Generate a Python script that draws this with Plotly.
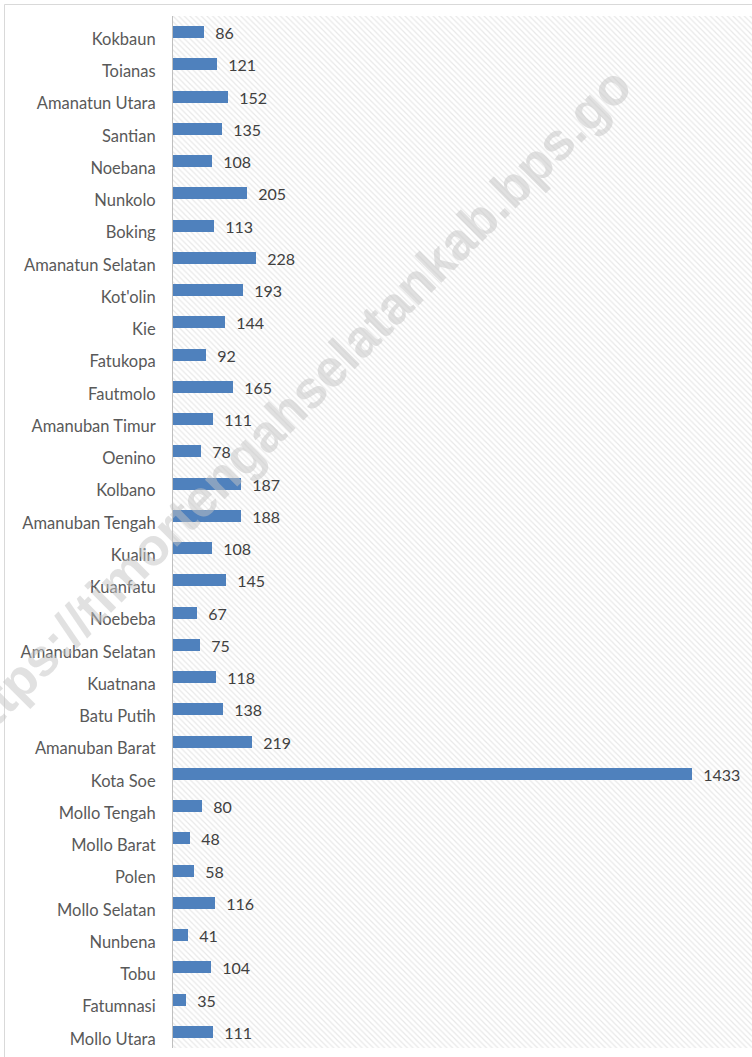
import plotly.graph_objects as go

categories = ["Mollo Utara", "Fatumnasi", "Tobu", "Nunbena", "Mollo Selatan", "Polen",
              "Mollo Barat", "Mollo Tengah", "Kota Soe", "Amanuban Barat", "Batu Putih",
              "Kuatnana", "Amanuban Selatan", "Noebeba", "Kuanfatu", "Kualin",
              "Amanuban Tengah", "Kolbano", "Oenino", "Amanuban Timur", "Fautmolo",
              "Fatukopa", "Kie", "Kot'olin", "Amanatun Selatan", "Boking", "Nunkolo",
              "Noebana", "Santian", "Amanatun Utara", "Toianas", "Kokbaun"]
values = [111, 35, 104, 41, 116, 58, 48, 80, 1433, 219, 138, 118, 75, 67, 145, 108,
          188, 187, 78, 111, 165, 92, 144, 193, 228, 113, 205, 108, 135, 152, 121, 86]
watermark = "https://timortengahselatankab.bps.go"

positions = list(range(len(categories)))
x_max = 1599
y_lo, y_hi = -0.5, len(categories) - 0.5

L, T, W, H = 173, 16, 579, 1032
FIG_W, FIG_H = 752, 1057

fig = go.Figure()

# hatched background panel (decorative), spanning the full axis ranges
fig.add_trace(go.Bar(
    x=[x_max], y=[(y_lo + y_hi) / 2], base=0, width=y_hi - y_lo, orientation="h",
    marker=dict(color="white", line=dict(width=0),
                pattern=dict(shape="\\", fgcolor="#d2d2d2", bgcolor="white",
                             size=4, solidity=0.3)),
    hoverinfo="skip", showlegend=False,
))

fig.add_trace(go.Bar(
    x=values, y=positions, orientation="h", width=0.37,
    marker=dict(color="#4F81BD", line=dict(width=0)),
    texttemplate="\u00a0\u00a0%{x}", textposition="outside", cliponaxis=False,
    constraintext="none",
    textfont=dict(family="Lato", size=16, color="#404040"),
    showlegend=False,
))

cx, cy = 290, 407
fig.add_annotation(
    text=watermark, x=(cx - L) / W, y=1 - (cy - T) / H, xref="paper", yref="paper",
    xanchor="center", yanchor="middle", showarrow=False, textangle=-45,
    font=dict(family="Liberation Sans", size=52.5, color="rgba(195,195,195,0.5)",
              weight="bold"),
)

fig.add_shape(type="rect", xref="paper", yref="paper",
              x0=(4.5 - L) / W, x1=1.2, y0=-0.2, y1=1 + (T - 4.5) / H,
              line=dict(color="#d9d9d9", width=1), fillcolor="rgba(0,0,0,0)", layer="above")

fig.update_layout(
    width=FIG_W, height=FIG_H,
    margin=dict(l=L, r=FIG_W - L - W, t=T, b=FIG_H - T - H),
    paper_bgcolor="white", plot_bgcolor="white",
    barmode="overlay", bargap=0,
    xaxis=dict(range=[0, x_max], showgrid=False, zeroline=False, showticklabels=False,
               showline=False, ticks=""),
    yaxis=dict(range=[y_lo, y_hi], tickvals=positions, ticktext=categories,
               showgrid=False, zeroline=False, showline=True, linecolor="#bfbfbf",
               linewidth=1, ticks="", ticklabelshift=7, ticklabelstandoff=13,
               tickfont=dict(family="Lato", size=16.5, color="#595959")),
    font=dict(family="Lato"),
)

fig.write_html("out.html", config={"displayModeBar": False},
               post_script="document.body.style.margin='0';document.body.style.overflow='hidden';")
